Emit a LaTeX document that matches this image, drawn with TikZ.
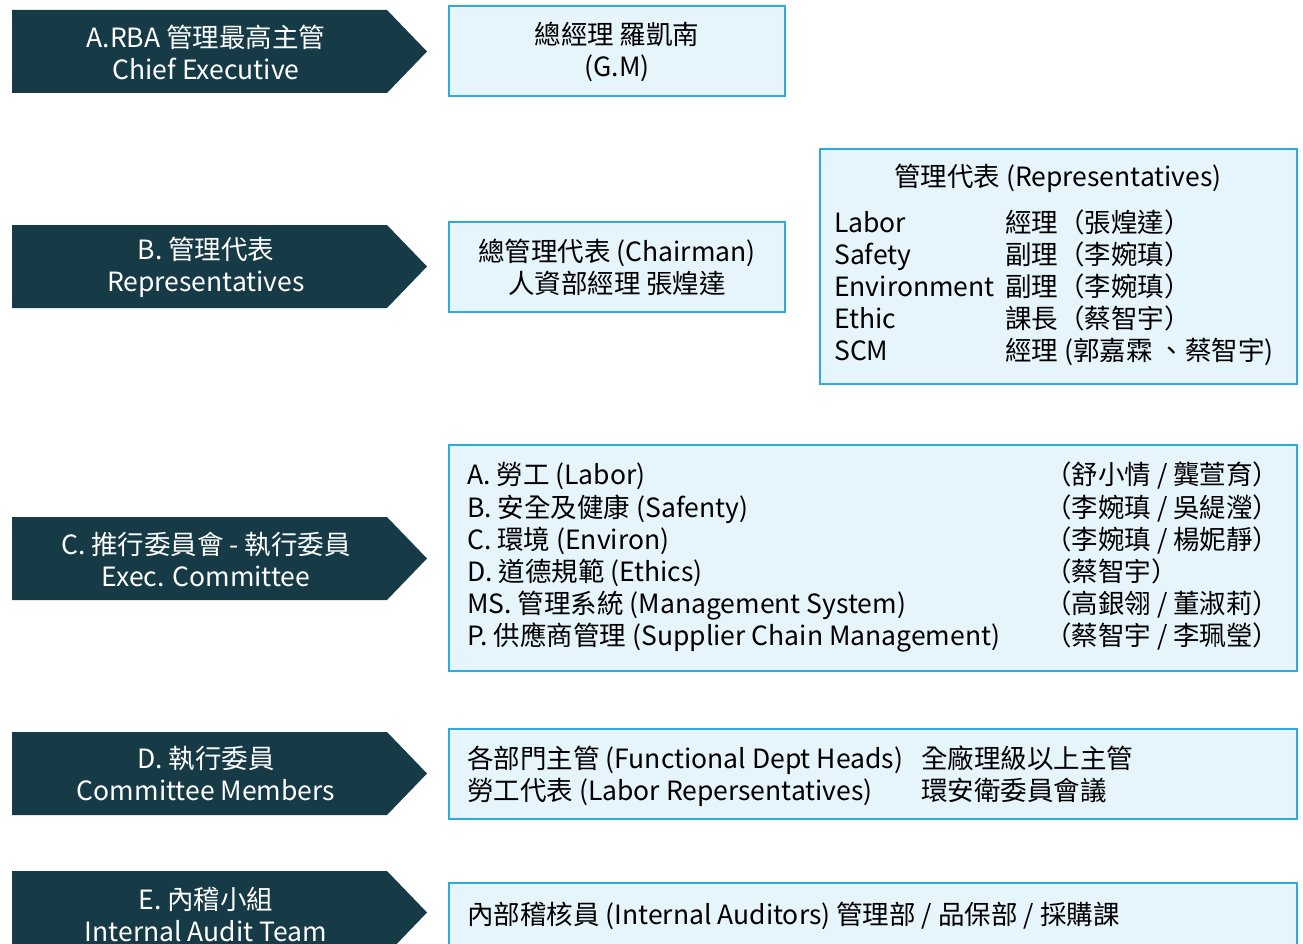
\documentclass[tikz,border=0pt]{standalone}
\usepackage{fontspec}
\setmainfont{Noto Sans CJK TC}
\usepackage{tikz}

\definecolor{tagteal}{RGB}{22,58,70}
\definecolor{boxfill}{RGB}{230,244,252}
\definecolor{boxline}{RGB}{45,170,225}

\tikzset{
  tagshape/.style={fill=tagteal},
  tagtext/.style={text=white,align=center,font=\fontsize{26.5}{32}\selectfont},
  infobox/.style={draw=boxline,fill=boxfill,line width=1.3pt},
  infotext/.style={align=center,font=\fontsize{26.5}{32}\selectfont},
  infoline/.style={anchor=base west,inner sep=0pt,font=\fontsize{26.5}{32}\selectfont},
}

\begin{document}
\begin{tikzpicture}[x=1pt,y=-1pt]
\useasboundingbox (0,0) rectangle (1303,944);
\clip (0,0) rectangle (1303,944);

% left tags
\fill[tagshape] (12,10) -- (387,10) -- (427,51.5) -- (387,93) -- (12,93) -- cycle;
\fill[tagshape] (12,225) -- (387,225) -- (427,266.5) -- (387,308) -- (12,308) -- cycle;
\fill[tagshape] (12,517) -- (387,517) -- (427,558.5) -- (387,600) -- (12,600) -- cycle;
\fill[tagshape] (12,732) -- (387,732) -- (427,773.5) -- (387,815) -- (12,815) -- cycle;
\fill[tagshape] (12,871) -- (387,871) -- (427,912.5) -- (387,954) -- (12,954) -- cycle;
\node[tagtext] (tagA) at (206,52) {A.RBA 管理最高主管\\Chief Executive};
\node[tagtext] (tagB) at (206,267) {B. 管理代表\\Representatives};
\node[tagtext] (tagC) at (206,559) {C. 推行委員會 - 執行委員\\Exec. Committee};
\node[tagtext] (tagD) at (206,774) {D. 執行委員\\Committee Members};
\node[tagtext] (tagE) at (206,914) {E. 內稽小組\\Internal Audit Team};

% boxes
\draw[infobox] (449,6) rectangle (785,96);
\draw[infobox] (449,222) rectangle (785,312);
\draw[infobox] (820,149) rectangle (1297,384);
\draw[infobox] (449,445) rectangle (1297,671);
\draw[infobox] (449,729) rectangle (1297,819);
\draw[infobox] (449,883) rectangle (1297,960);

\node[infotext] (gm) at (617,52) {總經理 羅凱南\\(G.M)};
\node[infotext] (chair) at (617,267) {總管理代表 (Chairman)\\人資部經理 張煌達};

% representatives
\node[infotext,anchor=base] (reptitle) at (1058,186) {管理代表 (Representatives)};
\node[infoline] (repL1) at (834,232) {Labor};
\node[infoline] (repL2) at (834,264) {Safety};
\node[infoline] (repL3) at (834,296) {Environment};
\node[infoline] (repL4) at (834,328) {Ethic};
\node[infoline] (repL5) at (834,360) {SCM};
\node[infoline] (repR1) at (1005,232) {經理（張煌達）};
\node[infoline] (repR2) at (1005,264) {副理（李婉瑱）};
\node[infoline] (repR3) at (1005,296) {副理（李婉瑱）};
\node[infoline] (repR4) at (1005,328) {課長（蔡智宇）};
\node[infoline] (repR5) at (1005,360) {經理 (郭嘉霖 、蔡智宇)};

% committee
\node[infoline] (comL1) at (467,484) {A. 勞工 (Labor)};
\node[infoline] (comL2) at (467,517) {B. 安全及健康 (Safenty)};
\node[infoline] (comL3) at (467,549) {C. 環境 (Environ)};
\node[infoline] (comL4) at (467,581) {D. 道德規範 (Ethics)};
\node[infoline] (comL5) at (467,613) {MS. 管理系統 (Management System)};
\node[infoline] (comL6) at (467,645) {P. 供應商管理 (Supplier Chain Management)};
\node[infoline] (comR1) at (1045,484) {（舒小情 / 龔萱育）};
\node[infoline] (comR2) at (1045,517) {（李婉瑱 / 吳緹瀅）};
\node[infoline] (comR3) at (1045,549) {（李婉瑱 / 楊妮靜）};
\node[infoline] (comR4) at (1045,581) {（蔡智宇）};
\node[infoline] (comR5) at (1045,613) {（高銀翎 / 董淑莉）};
\node[infoline] (comR6) at (1045,645) {（蔡智宇 / 李珮瑩）};

% members
\node[infoline] (memL1) at (467,768) {各部門主管 (Functional Dept Heads)};
\node[infoline] (memL2) at (467,800) {勞工代表 (Labor Repersentatives)};
\node[infoline] (memR1) at (921,768) {全廠理級以上主管};
\node[infoline] (memR2) at (921,800) {環安衛委員會議};

% audit
\node[infoline] (audit) at (467,924) {內部稽核員 (Internal Auditors) 管理部 / 品保部 / 採購課};
\end{tikzpicture}
\end{document}
